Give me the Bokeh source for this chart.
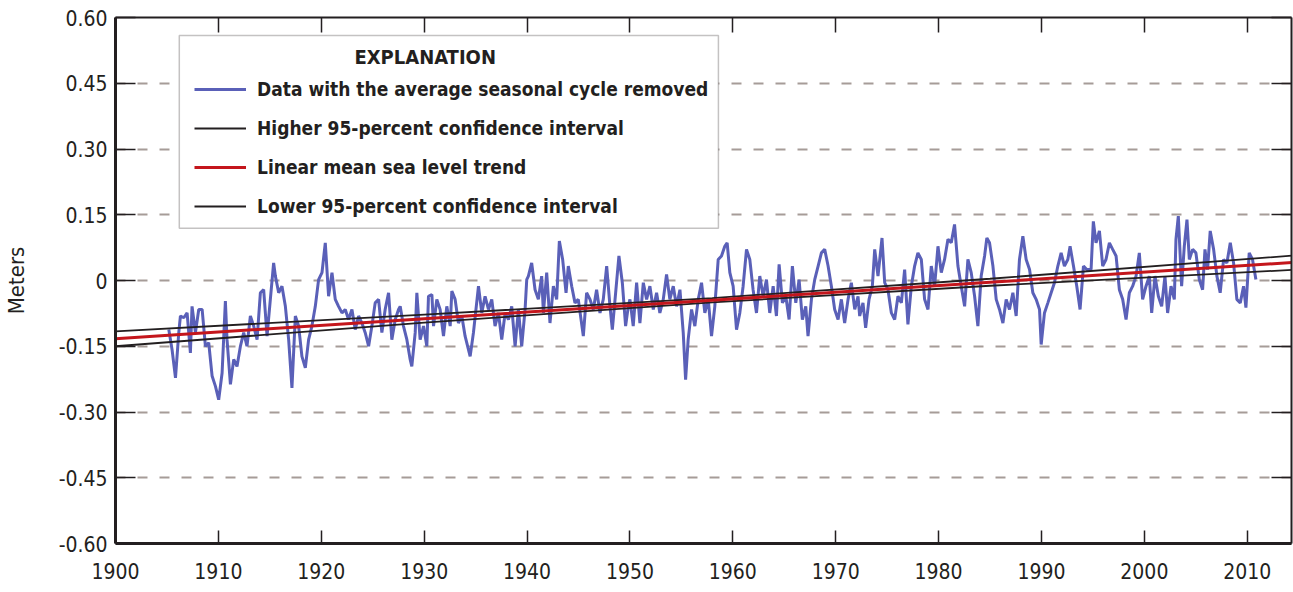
from bokeh.plotting import figure
from bokeh.models import (Range1d, FixedTicker, LinearAxis, Legend, LegendItem,
                          BoxAnnotation, Label)
from bokeh.embed import file_html
from bokeh.resources import INLINE

# Monthly mean sea level with the average seasonal cycle removed (meters)
years = [
    1905.18, 1905.50, 1905.83, 1906.15, 1906.31, 1906.64, 1906.96, 1907.28, 1907.44, 1907.77,
    1908.09, 1908.42, 1908.74, 1909.06, 1909.39, 1909.71, 1910.03, 1910.36, 1910.68, 1910.84,
    1911.17, 1911.49, 1911.81, 1912.14, 1912.46, 1912.78, 1913.11, 1913.43, 1913.76, 1914.08,
    1914.40, 1914.73, 1915.05, 1915.37, 1915.54, 1915.86, 1916.18, 1916.51, 1916.83, 1917.15,
    1917.48, 1917.80, 1918.12, 1918.45, 1918.77, 1919.09, 1919.42, 1919.74, 1920.07, 1920.39,
    1920.71, 1921.04, 1921.36, 1921.68, 1922.01, 1922.33, 1922.65, 1922.98, 1923.30, 1923.63,
    1923.95, 1924.27, 1924.60, 1924.92, 1925.24, 1925.57, 1925.89, 1926.21, 1926.54, 1926.86,
    1927.19, 1927.51, 1927.67, 1927.99, 1928.32, 1928.64, 1928.80, 1929.13, 1929.29, 1929.61,
    1929.94, 1930.26, 1930.42, 1930.75, 1930.91, 1931.23, 1931.55, 1931.88, 1932.20, 1932.53,
    1932.69, 1933.01, 1933.33, 1933.66, 1933.98, 1934.47, 1934.79, 1935.28, 1935.60, 1935.92,
    1936.25, 1936.57, 1936.89, 1937.22, 1937.54, 1937.87, 1938.19, 1938.51, 1938.84, 1939.16,
    1939.48, 1939.81, 1939.97, 1940.13, 1940.45, 1940.78, 1941.10, 1941.42, 1941.59, 1941.91,
    1942.23, 1942.56, 1942.88, 1943.14, 1943.46, 1943.79, 1944.01, 1944.34, 1944.66, 1944.98,
    1945.47, 1945.79, 1946.12, 1946.44, 1946.76, 1947.09, 1947.41, 1947.74, 1948.06, 1948.29,
    1948.61, 1948.93, 1949.26, 1949.58, 1949.84, 1950.00, 1950.32, 1950.65, 1950.97, 1951.30,
    1951.62, 1951.94, 1952.27, 1952.59, 1952.91, 1953.24, 1953.56, 1953.88, 1954.21, 1954.53,
    1954.86, 1955.18, 1955.41, 1955.66, 1955.99, 1956.31, 1956.64, 1956.96, 1957.28, 1957.61,
    1957.93, 1958.25, 1958.58, 1958.90, 1959.22, 1959.45, 1959.71, 1960.03, 1960.36, 1960.68,
    1961.00, 1961.33, 1961.65, 1961.97, 1962.30, 1962.62, 1962.95, 1963.27, 1963.59, 1963.92,
    1964.24, 1964.50, 1964.82, 1965.15, 1965.47, 1965.79, 1966.12, 1966.44, 1966.76, 1967.09,
    1967.31, 1967.64, 1967.96, 1968.29, 1968.61, 1968.93, 1969.26, 1969.58, 1969.90, 1970.23,
    1970.55, 1970.87, 1971.20, 1971.52, 1971.85, 1972.17, 1972.33, 1972.65, 1972.91, 1973.24,
    1973.56, 1973.79, 1974.11, 1974.50, 1974.76, 1975.08, 1975.41, 1975.73, 1976.05, 1976.38,
    1976.70, 1977.02, 1977.35, 1977.67, 1977.99, 1978.32, 1978.64, 1978.97, 1979.29, 1979.61,
    1979.94, 1980.26, 1980.58, 1980.91, 1981.23, 1981.55, 1981.88, 1982.20, 1982.53, 1982.85,
    1983.17, 1983.50, 1983.82, 1984.14, 1984.47, 1984.69, 1984.95, 1985.28, 1985.60, 1985.92,
    1986.25, 1986.57, 1986.89, 1987.22, 1987.54, 1987.86, 1988.19, 1988.51, 1988.84, 1989.16,
    1989.48, 1989.81, 1989.97, 1990.29, 1990.62, 1990.94, 1991.26, 1991.59, 1991.91, 1992.23,
    1992.56, 1992.78, 1993.11, 1993.43, 1993.75, 1994.08, 1994.40, 1994.82, 1995.04, 1995.30,
    1995.63, 1995.95, 1996.27, 1996.60, 1996.92, 1997.25, 1997.57, 1997.89, 1998.22, 1998.54,
    1998.86, 1999.19, 1999.51, 1999.83, 2000.16, 2000.48, 2000.71, 2001.03, 2001.36, 2001.68,
    2002.00, 2002.26, 2002.59, 2002.91, 2003.07, 2003.30, 2003.62, 2003.88, 2004.14, 2004.37,
    2004.69, 2005.01, 2005.34, 2005.66, 2005.89, 2006.14, 2006.40, 2006.73, 2007.05, 2007.37,
    2007.70, 2008.02, 2008.35, 2008.67, 2008.99, 2009.32, 2009.64, 2009.87, 2010.19, 2010.51,
    2010.84,
]
sea_level = [
    -0.112, -0.158, -0.222, -0.119, -0.081, -0.085, -0.074, -0.165, -0.059, -0.119,
    -0.066, -0.066, -0.150, -0.142, -0.218, -0.241, -0.272, -0.211, -0.047, -0.135,
    -0.237, -0.180, -0.196, -0.150, -0.119, -0.150, -0.081, -0.104, -0.135, -0.028,
    -0.021, -0.127, -0.043, 0.040, 0.010, -0.028, -0.013, -0.059, -0.135, -0.245,
    -0.081, -0.104, -0.173, -0.199, -0.135, -0.104, -0.059, 0.002, 0.018, 0.086,
    -0.036, 0.018, -0.043, -0.059, -0.074, -0.066, -0.089, -0.066, -0.112, -0.081,
    -0.097, -0.119, -0.150, -0.104, -0.051, -0.043, -0.119, -0.066, -0.028, -0.135,
    -0.089, -0.066, -0.059, -0.104, -0.135, -0.180, -0.196, -0.119, -0.028, -0.135,
    -0.104, -0.150, -0.036, -0.032, -0.104, -0.043, -0.066, -0.127, -0.059, -0.104,
    -0.024, -0.043, -0.097, -0.081, -0.127, -0.173, -0.119, -0.013, -0.074, -0.036,
    -0.066, -0.043, -0.104, -0.074, -0.135, -0.074, -0.089, -0.059, -0.150, -0.066,
    -0.150, -0.066, 0.002, 0.010, 0.040, -0.021, -0.043, 0.010, -0.074, 0.018,
    -0.097, -0.013, -0.043, 0.090, 0.048, -0.028, 0.033, -0.013, -0.051, -0.043,
    -0.127, -0.028, -0.043, -0.066, -0.021, -0.074, -0.043, 0.033, -0.059, -0.112,
    -0.028, 0.056, -0.005, -0.104, -0.059, -0.043, -0.104, -0.005, -0.097, -0.005,
    -0.043, -0.013, -0.066, -0.028, -0.074, -0.043, 0.014, -0.043, -0.013, -0.059,
    -0.021, -0.119, -0.226, -0.135, -0.066, -0.104, -0.043, -0.005, -0.074, -0.043,
    -0.127, -0.059, 0.048, 0.056, 0.078, 0.086, 0.018, -0.013, -0.112, -0.074,
    -0.013, 0.071, 0.048, -0.021, -0.074, 0.010, -0.036, 0.002, -0.074, -0.013,
    -0.081, 0.037, -0.051, -0.036, -0.089, 0.033, -0.051, 0.002, -0.089, -0.059,
    -0.127, -0.043, 0.002, 0.033, 0.063, 0.071, 0.033, -0.013, -0.066, -0.089,
    -0.043, -0.097, -0.043, -0.005, -0.066, -0.036, -0.081, -0.051, -0.108, -0.043,
    -0.013, 0.071, 0.010, 0.097, -0.005, -0.021, -0.074, -0.089, -0.036, -0.051,
    0.025, -0.100, -0.013, 0.033, 0.063, 0.048, -0.043, -0.066, 0.033, -0.013,
    0.078, 0.018, 0.048, 0.094, 0.086, 0.128, 0.033, -0.013, -0.059, 0.048,
    0.018, -0.036, -0.104, 0.010, 0.056, 0.097, 0.086, 0.033, -0.043, -0.066,
    -0.097, -0.043, -0.066, -0.028, -0.081, 0.048, 0.101, 0.048, 0.025, -0.028,
    -0.043, -0.066, -0.146, -0.074, -0.051, -0.028, -0.005, 0.033, 0.063, 0.033,
    0.048, 0.078, 0.033, -0.013, -0.066, 0.033, 0.025, 0.025, 0.135, 0.086,
    0.113, 0.033, 0.048, 0.086, 0.071, 0.056, -0.021, -0.043, -0.089, -0.028,
    -0.013, 0.010, 0.063, -0.043, -0.013, 0.010, -0.074, 0.010, -0.036, -0.059,
    0.010, -0.074, -0.013, -0.043, 0.094, 0.147, -0.013, 0.078, 0.139, 0.048,
    0.071, 0.063, 0.002, -0.021, 0.071, 0.025, 0.113, 0.071, 0.010, -0.028,
    0.048, 0.040, 0.086, 0.040, -0.043, -0.051, -0.013, -0.062, 0.063, 0.048,
    0.002,
]

# Linear mean sea level trend and its 95-percent confidence bounds (meters)
trend_years = [1900, 1930, 1958, 1985, 2015]
trend_mean = [-0.133, -0.087, -0.045, -0.004, 0.042]
ci_upper = [-0.116, -0.078, -0.040, 0.004, 0.058]
ci_lower = [-0.150, -0.096, -0.050, -0.012, 0.025]

x_ticks = [1900, 1910, 1920, 1930, 1940, 1950, 1960, 1970, 1980, 1990, 2000, 2010]
y_ticks = [-0.60, -0.45, -0.30, -0.15, 0.0, 0.15, 0.30, 0.45, 0.60]
y_tick_labels = ["-0.60", "-0.45", "-0.30", "-0.15", "0", "0.15", "0.30", "0.45", "0.60"]

legend_labels = [
    "Data with the average seasonal cycle removed",
    "Higher 95-percent confidence interval",
    "Linear mean sea level trend",
    "Lower 95-percent confidence interval",
]

FONT = "'DejaVu Sans Condensed', 'Liberation Sans Narrow', sans-serif"
INK = "#231f20"
BLUE = "#5a60b8"
RED = "#c4161c"
GRID = "#a69c98"

p = figure(width=1293, height=592, output_backend="svg", toolbar_location=None,
           x_range=Range1d(1900, 2014.3), y_range=Range1d(-0.6, 0.6),
           min_border_left=115, min_border_right=2, min_border_top=17,
           min_border_bottom=49, background_fill_color="white",
           border_fill_color="white")
p.outline_line_color = None
p.xgrid.visible = False

yt = FixedTicker(ticks=y_ticks)
xt = FixedTicker(ticks=x_ticks)
p.ygrid.ticker = yt
p.ygrid.grid_line_color = GRID
p.ygrid.grid_line_width = 2
p.ygrid.grid_line_dash = "10 12"
p.ygrid.grid_line_dash_offset = 0

left = p.yaxis[0]
left.ticker = yt
left.major_label_overrides = dict(zip(y_ticks, y_tick_labels))
left.axis_label = "Meters"
left.axis_label_text_font = FONT
left.axis_label_text_font_style = "normal"
left.axis_label_text_font_size = "22px"
left.axis_label_text_color = INK
left.axis_label_standoff = 27

bottom = p.xaxis[0]
bottom.ticker = xt

for ax in (left, bottom):
    ax.axis_line_width = 3
    ax.axis_line_color = INK
    ax.major_tick_out = 0
    ax.minor_tick_line_color = None
    ax.major_tick_line_color = INK
    ax.major_tick_line_width = 1.5
    ax.major_label_text_font = FONT
    ax.major_label_text_font_size = "21px"
    ax.major_label_text_color = INK

left.major_tick_in = 20
left.major_label_standoff = 8
bottom.major_tick_in = 13
bottom.major_label_standoff = 19

# Plain frame axes on the top and right, ticks only
top = LinearAxis(ticker=FixedTicker(ticks=x_ticks))
right = LinearAxis(ticker=FixedTicker(ticks=y_ticks))
for ax, tick_len in ((top, 15), (right, 20)):
    ax.axis_line_width = 2
    ax.axis_line_color = INK
    ax.major_tick_in = tick_len
    ax.major_tick_out = 0
    ax.major_tick_line_color = INK
    ax.major_tick_line_width = 1.5
    ax.minor_tick_line_color = None
    ax.major_label_text_color = None
    ax.major_label_text_font_size = "1px"
    ax.major_label_standoff = 0
p.add_layout(top, "above")
p.add_layout(right, "right")

data_line = p.line(years, sea_level, line_color=BLUE, line_width=3)
upper_line = p.line(trend_years, ci_upper, line_color=INK, line_width=1.8)
lower_line = p.line(trend_years, ci_lower, line_color=INK, line_width=1.8)
mean_line = p.line(trend_years, trend_mean, line_color=RED, line_width=3)

# Explanation box
box = BoxAnnotation(left=1906.2, right=1958.6, bottom=0.119, top=0.559,
                    fill_color="white", fill_alpha=1.0,
                    line_color="#3a3536", line_width=1.5)
p.add_layout(box)

legend = Legend(items=[
    LegendItem(label=legend_labels[0], renderers=[data_line]),
    LegendItem(label=legend_labels[1], renderers=[upper_line]),
    LegendItem(label=legend_labels[2], renderers=[mean_line]),
    LegendItem(label=legend_labels[3], renderers=[lower_line]),
], location=(79, 325))
legend.border_line_color = None
legend.background_fill_alpha = 0
legend.padding = 0
legend.margin = 0
legend.spacing = 15
legend.glyph_width = 52
legend.glyph_height = 24
legend.label_height = 24
legend.label_standoff = 11
legend.label_text_font = FONT
legend.label_text_font_style = "bold"
legend.label_text_font_size = "19px"
legend.label_text_color = INK
legend.label_text_baseline = "middle"
p.add_layout(legend)

title = Label(x=1930.1, y=0.509, text="EXPLANATION", text_align="center",
              text_baseline="middle", text_font=FONT, text_font_style="bold",
              text_font_size="20px", text_color=INK)
p.add_layout(title)

open("out.html", "w").write(file_html(p, INLINE))
